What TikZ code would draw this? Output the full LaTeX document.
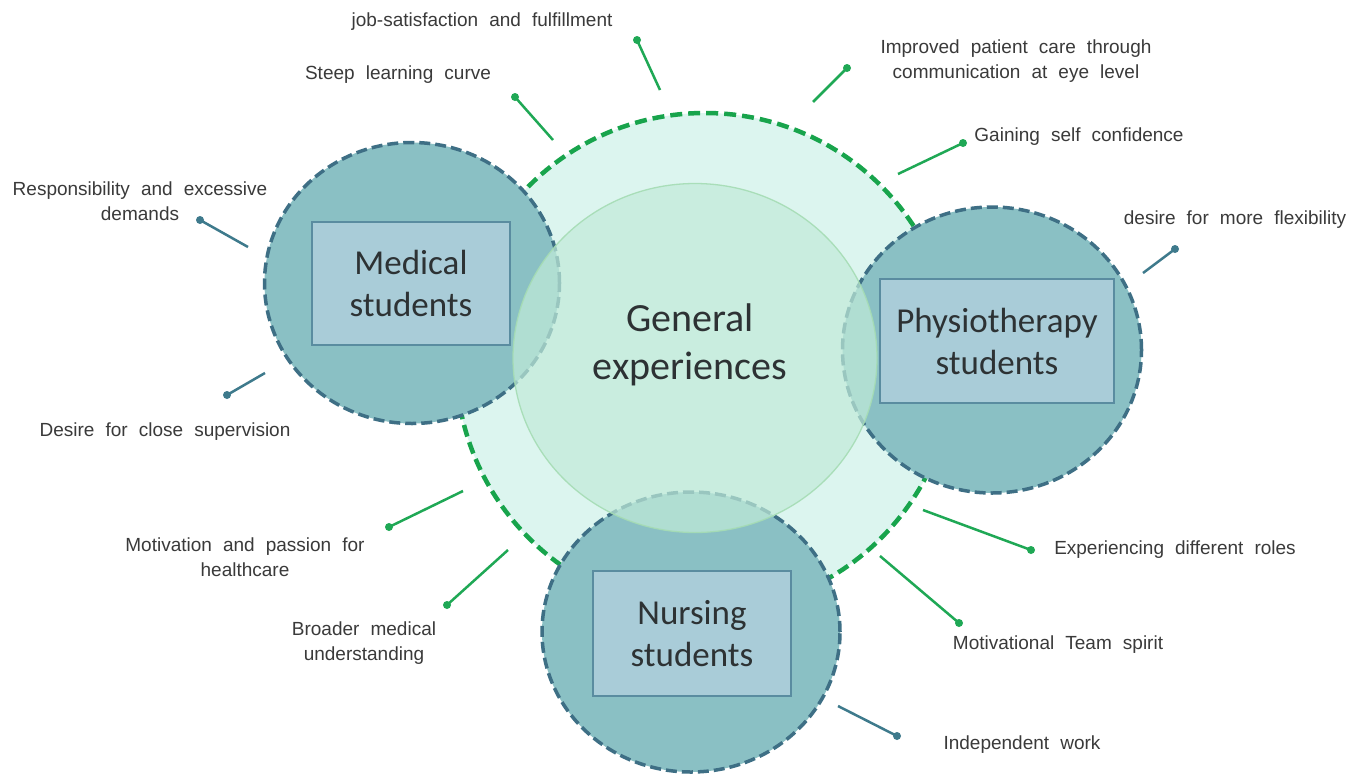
\documentclass[tikz,border=0pt]{standalone}
\usepackage{fontspec}
\setmainfont{Carlito}
\newfontfamily\labfont[WordSpace=2.1]{Liberation Sans}
\usetikzlibrary{shapes.geometric}
\definecolor{mint}{RGB}{220,245,239}
\definecolor{gdash}{RGB}{24,164,76}
\definecolor{tealfill}{RGB}{138,192,196}
\definecolor{tealborder}{RGB}{62,111,133}
\definecolor{innerfill}{RGB}{193,235,217}
\definecolor{innerborder}{RGB}{165,220,180}
\definecolor{boxfill}{RGB}{169,204,216}
\definecolor{boxborder}{RGB}{90,140,160}
\definecolor{txt}{RGB}{45,50,52}
\definecolor{labtext}{RGB}{58,58,58}
\definecolor{gconn}{RGB}{31,168,85}
\definecolor{tconn}{RGB}{62,122,140}
\begin{document}
\begin{tikzpicture}[x=1pt,y=-1pt,
  bigcirc/.style={circle, minimum size=498pt, inner sep=0pt, fill=mint, draw=gdash, line width=4.5pt, dash pattern=on 12pt off 6pt},
  group/.style={ellipse, inner sep=0pt, fill=tealfill, draw=tealborder, line width=3.5pt, dash pattern=on 11pt off 5pt},
  innerc/.style={ellipse, inner sep=0pt, minimum width=364pt, minimum height=349pt, fill=innerfill, fill opacity=0.7, draw=innerborder, draw opacity=0.9, line width=1.3pt},
  box/.style={rectangle, inner sep=0pt, fill=boxfill, draw=boxborder, line width=1.5pt, font=\fontsize{35}{42}\selectfont, text=txt, align=center},
  lab/.style={font=\labfont\fontsize{19}{24.5}\selectfont, text=labtext, align=center, inner sep=0pt},
  gdot/.style={circle, inner sep=0pt, minimum size=8pt, fill=gconn},
  tdot/.style={circle, inner sep=0pt, minimum size=8pt, fill=tconn},
  gline/.style={draw=gconn, line width=2.5pt},
  tline/.style={draw=tconn, line width=2.5pt}]
\useasboundingbox (0,0) rectangle (1354,774);
\fill[white] (0,0) rectangle (1354,774);

% circles
\node[bigcirc] (big) at (705,362) {};
\node[group, minimum width=295pt, minimum height=281pt] (med) at (412,283) {};
\node[group, minimum width=299pt, minimum height=286pt] (phy) at (992,350) {};
\node[group, minimum width=298pt, minimum height=280pt] (nur) at (691,632) {};
\node[innerc] (gen) at (695,358) {};

% boxes
\node[box, minimum width=198pt, minimum height=123pt] (medbox) at (411,283.5) {Medical\\students};
\node[box, minimum width=234pt, minimum height=124pt] (phybox) at (997,341) {Physiotherapy\\students};
\node[box, minimum width=198pt, minimum height=125pt] (nurbox) at (692,633.5) {Nursing\\students};
\node[font=\fontsize{40}{48}\selectfont, text=txt, align=center] (gentext) at (690,345) {General\\experiences};

% labels
\node[lab] (l1) at (482,22) {job-satisfaction and fulfillment};
\node[lab] (l2) at (398,75) {Steep learning curve};
\node[lab] (l3) at (1016,61) {Improved patient care through\\communication at eye level};
\node[lab] (l4) at (1079,137) {Gaining self confidence};
\node[lab] (l5) at (1235,220) {desire for more flexibility};
\node[lab] (l6) at (140,201) {Responsibility and excessive\\demands};
\node[lab] (l7) at (165,432) {Desire for close supervision};
\node[lab] (l8) at (245,557) {Motivation and passion for\\healthcare};
\node[lab] (l9) at (364,643) {Broader medical\\understanding};
\node[lab] (l10) at (1175,550) {Experiencing different roles};
\node[lab] (l11) at (1058,645) {Motivational Team spirit};
\node[lab] (l12) at (1022,745) {Independent work};

% connectors
\node[gdot] (d1) at (637,40) {};   \coordinate (e1) at (660,90);
\node[gdot] (d2) at (515,97) {};   \coordinate (e2) at (553,140);
\node[gdot] (d3) at (847,68) {};   \coordinate (e3) at (813,102);
\node[gdot] (d4) at (963,143) {};  \coordinate (e4) at (898,174);
\node[tdot] (d5) at (1175,249) {}; \coordinate (e5) at (1143,273);
\node[tdot] (d6) at (200,220) {};  \coordinate (e6) at (248,247);
\node[tdot] (d7) at (227,395) {};  \coordinate (e7) at (265,373);
\node[gdot] (d8) at (389,527) {};  \coordinate (e8) at (463,491);
\node[gdot] (d9) at (447,605) {};  \coordinate (e9) at (508,550);
\node[gdot] (d10) at (1031,550) {}; \coordinate (e10) at (923,510);
\node[gdot] (d11) at (959,623) {};  \coordinate (e11) at (880,556);
\node[tdot] (d12) at (897,736) {};  \coordinate (e12) at (838,706);

\draw[gline] (d1.center) -- (e1);
\draw[gline] (d2.center) -- (e2);
\draw[gline] (d3.center) -- (e3);
\draw[gline] (d4.center) -- (e4);
\draw[tline] (d5.center) -- (e5);
\draw[tline] (d6.center) -- (e6);
\draw[tline] (d7.center) -- (e7);
\draw[gline] (d8.center) -- (e8);
\draw[gline] (d9.center) -- (e9);
\draw[gline] (d10.center) -- (e10);
\draw[gline] (d11.center) -- (e11);
\draw[tline] (d12.center) -- (e12);
\end{tikzpicture}
\end{document}
